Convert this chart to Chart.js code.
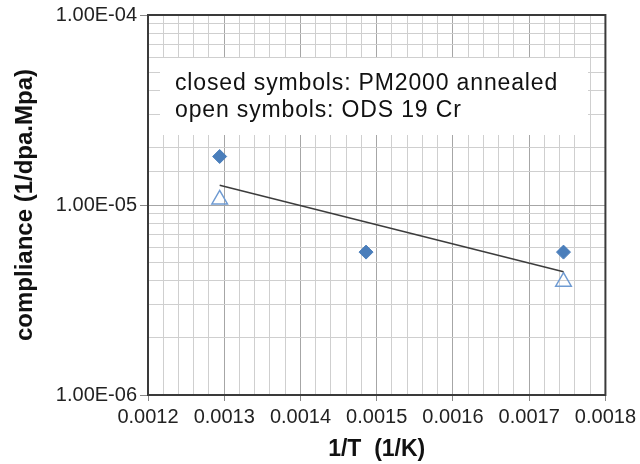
<!DOCTYPE html>
<html lang="en">
<head>
    <meta charset="UTF-8">
    <title>Compliance vs 1/T</title>
    <script src="https://cdn.jsdelivr.net/npm/chart.js"></script>
    <style>
        body {
            margin: 0;
            background: #fff;
        }
        #wrap {
            width: 640px;
            height: 464px;
        }
    </style>
</head>
<body>
    <div id="wrap"><canvas id="complianceChart"></canvas></div>

    <script>
        // data
        const invT = [0.001294, 0.001486, 0.001745];
        const pm2000 = [1.80e-5, 5.65e-6, 5.65e-6];      // closed symbols
        const odsInvT = [0.001294, 0.001745];
        const ods19cr = [1.07e-5, 3.95e-6];               // open symbols
        const trendX = [0.001294, 0.001745];
        const trendY = [1.27e-5, 4.45e-6];

        const xTickLabels = ['0.0012', '0.0013', '0.0014', '0.0015', '0.0016', '0.0017', '0.0018'];
        const yTickLabels = ['1.00E-06', '1.00E-05', '1.00E-04'];
        const noteLines = ['closed symbols: PM2000 annealed', 'open symbols: ODS 19 Cr'];

        const FONT = "'Liberation Sans', Arial, sans-serif";
        const X_MIN = 0.0012, X_STEP = 0.00002;

        function xIndex(v) { return Math.round((v - X_MIN) / X_STEP); }
        function isDecade(v) { const l = Math.log10(v); return Math.abs(l - Math.round(l)) < 1e-6; }

        // white note box + frame round the plot area
        const notePlugin = {
            id: 'note',
            beforeDatasetsDraw(chart) {
                const {ctx, chartArea: a} = chart;
                ctx.save();
                ctx.fillStyle = '#fff';
                ctx.fillRect(a.left + 12, a.top + 43, 428, 77);
                ctx.fillStyle = '#111';
                ctx.font = '23px ' + FONT;
                ctx.textBaseline = 'alphabetic';
                ctx.letterSpacing = '0.85px';
                ctx.fillText(noteLines[0], a.left + 27, a.top + 75);
                ctx.fillText(noteLines[1], a.left + 27, a.top + 102);
                ctx.restore();
            },
            afterDraw(chart) {
                const {ctx, chartArea: a} = chart;
                ctx.save();
                ctx.strokeStyle = '#3a3a3a';
                ctx.lineWidth = 2;
                ctx.strokeRect(a.left, a.top, a.right - a.left, a.bottom - a.top);
                ctx.restore();
            }
        };

        const ctx = document.getElementById('complianceChart').getContext('2d');
        new Chart(ctx, {
            type: 'scatter',
            data: {
                datasets: [
                    {
                        label: 'trend',
                        data: trendX.map((x, i) => ({x: x, y: trendY[i]})),
                        showLine: true,
                        borderColor: '#3c3c3c',
                        borderWidth: 1.5,
                        pointRadius: 0
                    },
                    {
                        label: 'PM2000 annealed',
                        data: invT.map((x, i) => ({x: x, y: pm2000[i]})),
                        pointStyle: 'rectRot',
                        pointRadius: 7,
                        backgroundColor: '#4a7ebb',
                        borderColor: '#4a7ebb',
                        borderWidth: 1
                    },
                    {
                        label: 'ODS 19 Cr',
                        data: odsInvT.map((x, i) => ({x: x, y: ods19cr[i]})),
                        pointStyle: 'triangle',
                        pointRadius: 9,
                        backgroundColor: 'rgba(255,255,255,0)',
                        borderColor: '#6f9bd2',
                        borderWidth: 1.5
                    }
                ]
            },
            options: {
                responsive: true,
                maintainAspectRatio: false,
                animation: false,
                layout: { padding: { top: 15, right: 32, left: 0, bottom: 0 } },
                plugins: {
                    legend: { display: false },
                    tooltip: { enabled: false }
                },
                scales: {
                    x: {
                        type: 'linear',
                        min: 0.0012,
                        max: 0.0018,
                        afterFit: s => { s.height = 69; },
                        ticks: {
                            stepSize: X_STEP,
                            autoSkip: false,
                            maxRotation: 0,
                            padding: 4,
                            color: '#222',
                            font: { family: FONT, size: 20 },
                            callback: v => {
                                const i = xIndex(v);
                                return i % 5 === 0 ? xTickLabels[i / 5] : '';
                            }
                        },
                        grid: {
                            tickLength: 6,
                            color: c => xIndex(c.tick.value) % 5 === 0 ? '#a6a6a6' : '#cfcfcf',
                            tickColor: c => xIndex(c.tick.value) % 5 === 0 ? '#888' : 'rgba(0,0,0,0)'
                        },
                        border: { color: '#3a3a3a', width: 2 },
                        title: {
                            display: true,
                            text: '1/T  (1/K)',
                            color: '#111',
                            padding: { top: 0, bottom: 1 },
                            font: { family: FONT, size: 23, weight: 'bold' }
                        }
                    },
                    y: {
                        type: 'logarithmic',
                        min: 1e-6,
                        max: 1e-4,
                        afterFit: s => { s.width = 148; },
                        ticks: {
                            autoSkip: false,
                            padding: 3,
                            color: '#222',
                            font: { family: FONT, size: 20 },
                            callback: v => {
                                if (!isDecade(v)) return '';
                                return yTickLabels[Math.round(Math.log10(v)) + 6];
                            }
                        },
                        grid: {
                            tickLength: 8,
                            color: c => isDecade(c.tick.value) ? '#a6a6a6' : '#cfcfcf',
                            tickColor: c => isDecade(c.tick.value) ? '#888' : 'rgba(0,0,0,0)'
                        },
                        border: { color: '#3a3a3a', width: 2 },
                        title: {
                            display: true,
                            text: 'compliance (1/dpa.Mpa)',
                            color: '#111',
                            padding: { top: 11, bottom: 0 },
                            font: { family: FONT, size: 24, weight: 'bold' }
                        }
                    }
                }
            },
            plugins: [notePlugin]
        });
    </script>
</body>
</html>
